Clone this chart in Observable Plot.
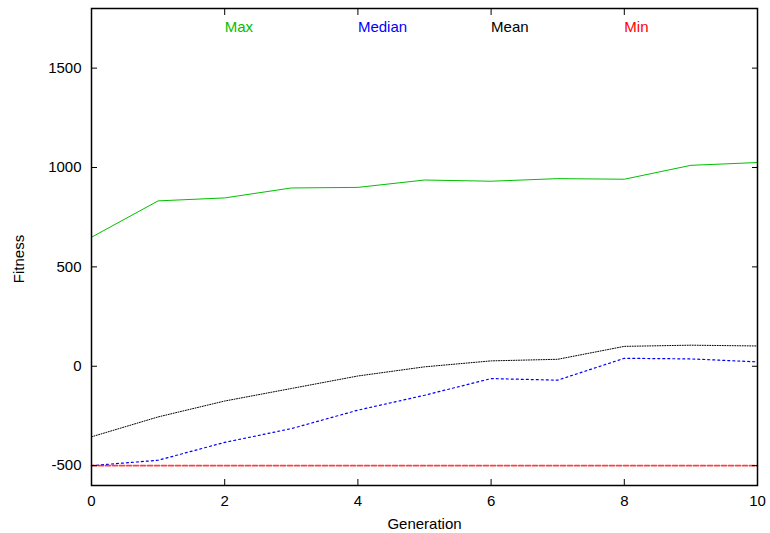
<!DOCTYPE html>
<html>
<head>
<meta charset="utf-8">
<script src="https://cdn.jsdelivr.net/npm/d3@7"></script>
<script src="https://cdn.jsdelivr.net/npm/@observablehq/plot@0.6"></script>
<style>
  body { margin: 0; background: #fff; }
</style>
</head>
<body>
<div id="chart"></div>
<script>
// Fitness statistics of the population per generation
const generations   = [0, 1, 2, 3, 4, 5, 6, 7, 8, 9, 10];
const maxFitness    = [649, 832, 847, 897, 900, 937, 931, 944, 941, 1011, 1025];
const medianFitness = [-500, -473, -383, -314, -221, -146, -62, -70, 40, 37, 22];
const meanFitness   = [-355, -255, -175, -112, -49, -3, 27, 35, 100, 106, 102];
const minFitness    = [-500, -500, -500, -500, -500, -500, -500, -500, -500, -500, -500];

const seriesNames = ["Max", "Median", "Mean", "Min"];
const xTicks = [0, 2, 4, 6, 8, 10];
const yTicks = [-500, 0, 500, 1000, 1500];
const axisTitles = ["Generation", "Fitness"];

const seriesValues = [maxFitness, medianFitness, meanFitness, minFitness];
const seriesColors = ["#00c000", "#0000ff", "#000000", "#ff0000"];
const seriesDashes = [null, "2,3", "1,1.5", "5,2"];
const seriesWidths = [1, 1.2, 1, 1.6];
const seriesOpacity = [1, 1, 1, 0.75];
// key labels sit along the top of the frame at these generations
const keyX = [2, 4, 6, 8];
const keyY = 1706;

const rows = seriesNames.flatMap((name, i) =>
  generations.map((g, j) => ({series: name, generation: g, fitness: seriesValues[i][j]}))
);

const font = "'Liberation Sans', Arial, Helvetica, sans-serif";
const plain = d => String(d);

const chart = Plot.plot({
  width: 770,
  height: 533,
  marginLeft: 91,
  marginRight: 13,
  marginTop: 8,
  marginBottom: 48,
  style: {fontFamily: font, fontSize: "15px", color: "#000", background: "#fff", overflow: "visible"},
  x: {domain: [0, 10]},
  y: {domain: [-600, 1800]},
  marks: [
    ...seriesNames.map((name, i) =>
      Plot.line(rows.filter(d => d.series === name), {
        x: "generation",
        y: "fitness",
        stroke: seriesColors[i],
        strokeWidth: seriesWidths[i],
        strokeOpacity: seriesOpacity[i],
        strokeDasharray: seriesDashes[i]
      })
    ),
    ...seriesNames.map((name, i) =>
      Plot.text([name], {
        x: () => keyX[i],
        y: () => keyY,
        text: d => d,
        fill: seriesColors[i],
        textAnchor: "start"
      })
    ),
    Plot.frame({stroke: "#000", strokeWidth: 1.5}),
    Plot.axisY(yTicks, {anchor: "left", tickSize: -6, tickPadding: 16, tickFormat: plain, label: null, fontSize: 15}),
    Plot.axisY(yTicks, {anchor: "right", tickSize: -6, tickFormat: () => "", label: null}),
    Plot.axisX(xTicks, {anchor: "bottom", tickSize: -6, tickPadding: 16, tickFormat: plain, label: null, fontSize: 15}),
    Plot.axisX(xTicks, {anchor: "top", tickSize: -6, tickFormat: () => "", label: null}),
    Plot.text([axisTitles[0]], {frameAnchor: "bottom", dy: 38.7, lineAnchor: "middle", textAnchor: "middle", text: d => d, fill: "#000"}),
    Plot.text([axisTitles[1]], {frameAnchor: "left", dx: -72, dy: 12, rotate: -90, lineAnchor: "middle", textAnchor: "middle", text: d => d, fill: "#000"})
  ]
});

document.getElementById("chart").append(chart);
</script>
</body>
</html>
